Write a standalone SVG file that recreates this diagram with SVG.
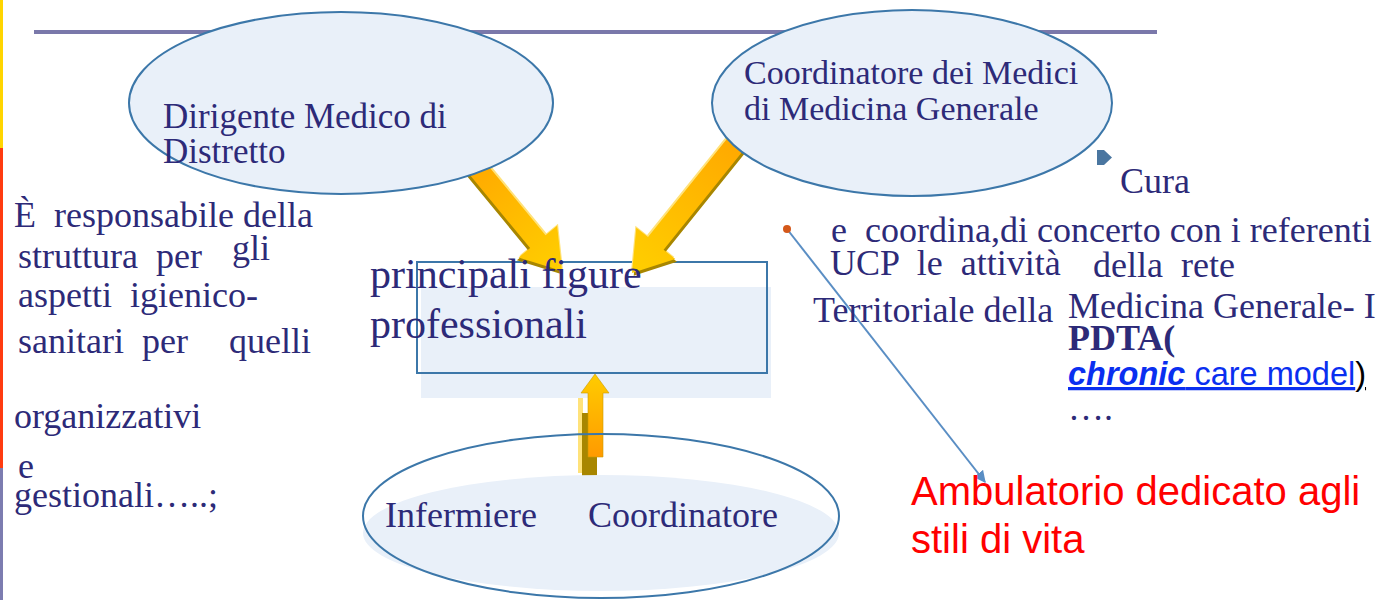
<svg xmlns="http://www.w3.org/2000/svg" width="1378" height="600" viewBox="0 0 1378 600">
<defs>
<style>
.t{font-family:"Liberation Serif","Times New Roman",serif;fill:#2d2a78}
.s34{font-size:34px}
.s35{font-size:35px}
.s36{font-size:36px}
.s42{font-size:42px}
.ell{fill:#e9f0f9;stroke:#3c77a9;stroke-width:2}
.red{font-family:"Liberation Sans",Arial,sans-serif;fill:#ff0000;font-size:40px}
</style>
<linearGradient id="ag" x1="0" y1="0" x2="1" y2="0">
<stop offset="0" stop-color="#ff9f00"/>
<stop offset="1" stop-color="#ffcf00"/>
</linearGradient>
<linearGradient id="vg" x1="0" y1="1" x2="0" y2="0">
<stop offset="0" stop-color="#ff9a00"/>
<stop offset="1" stop-color="#ffcc00"/>
</linearGradient>
<marker id="ah" viewBox="0 0 10 10" refX="9" refY="5" markerWidth="6" markerHeight="6" orient="auto" markerUnits="strokeWidth">
<path d="M0,0 L10,5 L0,10 z" fill="#5a8ec4"/>
</marker>
</defs>
<rect width="1378" height="600" fill="#ffffff"/>
<g id="left-bar">
<rect x="0" y="0" width="3" height="148" fill="#ffd500"/>
<rect x="0" y="148" width="3" height="320" fill="#ff3b10"/>
<rect x="0" y="468" width="3" height="132" fill="#7c7cb0"/>
</g>
<line id="top-line" x1="34" y1="32" x2="1157" y2="32" stroke="#7a78aa" stroke-width="4"/>

<g id="node-principali">
<rect x="421" y="287" width="350" height="111" fill="#e9f0f9"/>
<rect x="417" y="262" width="350" height="111" fill="none" stroke="#3c77a9" stroke-width="2"/>
</g>

<g id="connectors">
<g transform="translate(562,271) rotate(50.5)">
<polygon points="-175,-10 -38,-10 -38,-25 0,0 -38,25 -38,10 -175,10" fill="#ffe27a" transform="translate(-1,-2)"/>
<polygon points="-175,-10 -38,-10 -38,-25 0,0 -38,25 -38,10 -175,10" fill="#a88600" transform="translate(1,3)"/>
<polygon points="-175,-10 -38,-10 -38,-25 0,0 -38,25 -38,10 -175,10" fill="url(#ag)"/>
</g>
<g transform="translate(632,273) rotate(128.8)">
<polygon points="-210,-10 -38,-10 -38,-25 0,0 -38,25 -38,10 -210,10" fill="#ffe27a" transform="translate(-1,2)"/>
<polygon points="-210,-10 -38,-10 -38,-25 0,0 -38,25 -38,10 -210,10" fill="#a88600" transform="translate(1,-3)"/>
<polygon points="-210,-10 -38,-10 -38,-25 0,0 -38,25 -38,10 -210,10" fill="url(#ag)"/>
</g>
<g id="arrow-up">
<rect x="578" y="398" width="5" height="75" fill="#ffe27a"/>
<rect x="582" y="413" width="15" height="64" fill="#a88600"/>
<polygon points="595,374 609,393 603,393 603,457 588,457 588,393 581,393" fill="url(#vg)" stroke="#c99a00" stroke-width="0.6"/>
</g>
<line x1="787" y1="229" x2="985" y2="482" stroke="#5a8ec4" stroke-width="2" marker-end="url(#ah)"/>
<circle cx="787" cy="229" r="4" fill="#d4581a"/>
</g>

<g id="node-dirigente">
<ellipse class="ell" cx="341" cy="103" rx="212" ry="91"/>
<text class="t s35"><tspan x="163" y="128">Dirigente Medico di</tspan><tspan x="163" y="163">Distretto</tspan></text>
</g>
<g id="node-coordinatore">
<ellipse class="ell" cx="912" cy="103" rx="200" ry="93"/>
<text class="t s34"><tspan x="744" y="84">Coordinatore dei Medici</tspan><tspan x="744" y="120">di Medicina Generale</tspan></text>
</g>
<g id="node-principali-text">
<text class="t s42"><tspan x="370" y="288">principali figure</tspan><tspan x="370" y="338">professionali</tspan></text>
</g>
<g id="node-infermiere">
<ellipse cx="601" cy="533" rx="238" ry="58" fill="#e9f0f9"/>
<ellipse cx="601" cy="516" rx="238" ry="82" fill="none" stroke="#3c77a9" stroke-width="2"/>
<text class="t s36"><tspan x="385" y="527">Infermiere</tspan><tspan x="588" y="527">Coordinatore</tspan></text>
</g>

<g id="text-left" class="t s36">
<text x="14" y="227" xml:space="preserve">È  responsabile della</text>
<text x="18" y="268" xml:space="preserve">struttura  per</text>
<text x="232" y="260">gli</text>
<text x="18" y="307" xml:space="preserve">aspetti  igienico-</text>
<text x="18" y="353" xml:space="preserve">sanitari  per</text>
<text x="229" y="353">quelli</text>
<text x="14" y="428">organizzativi</text>
<text x="18" y="478">e</text>
<text x="14" y="507">gestionali…..;</text>
</g>

<g id="text-right" class="t s36">
<path d="M1097,150 L1104,150 L1112,157.5 L1104,165 L1097,165 z" fill="#4a76a0"/>
<text x="1120" y="193">Cura</text>
<text x="831" y="242" xml:space="preserve">e  coordina,di concerto con i referenti</text>
<text x="830" y="275" xml:space="preserve">UCP  le  attività</text>
<text x="1093" y="277" xml:space="preserve">della  rete</text>
<text x="813" y="322">Territoriale della</text>
<text x="1068" y="318">Medicina Generale- I</text>
<text x="1068" y="350" font-weight="bold">PDTA(</text>
<text x="1068" y="385" style="font-family:'Liberation Sans',Arial,sans-serif;font-size:32.5px"><tspan fill="#0a2ff0" font-weight="bold" font-style="italic" text-decoration="underline">chronic</tspan><tspan fill="#0a2ff0" text-decoration="underline"> care model</tspan><tspan fill="#000000" text-decoration="underline">)</tspan></text>
<text x="1068" y="420">….</text>
</g>

<g id="node-ambulatorio">
<text class="red"><tspan x="911" y="505">Ambulatorio dedicato agli</tspan><tspan x="911" y="553">stili di vita</tspan></text>
</g>
</svg>
